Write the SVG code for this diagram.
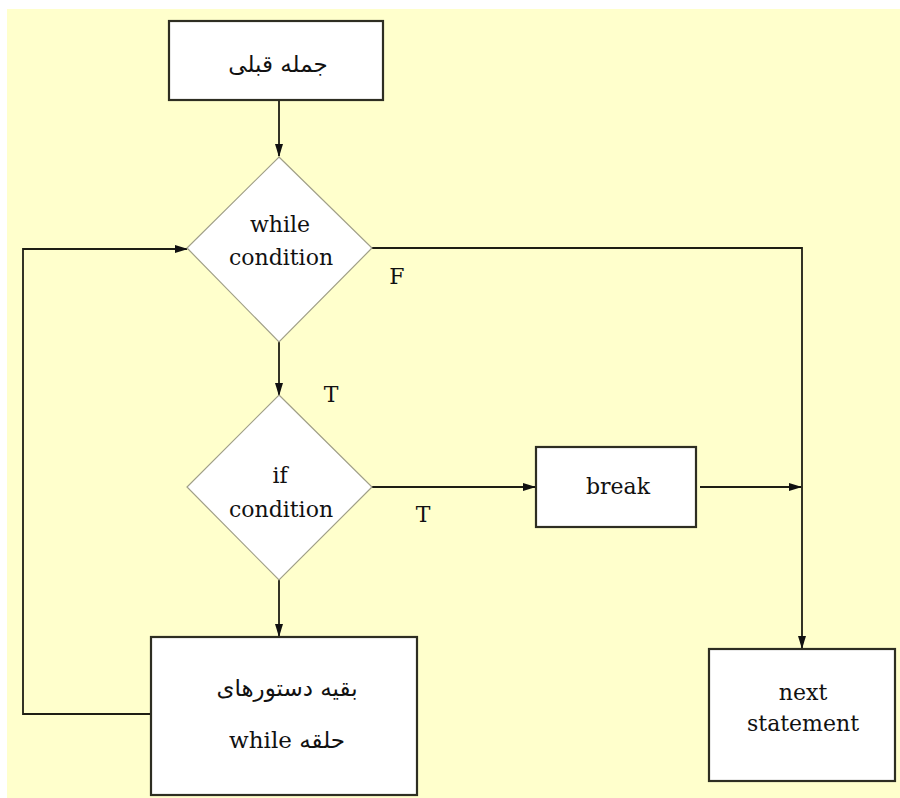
<svg xmlns="http://www.w3.org/2000/svg" width="900" height="798" viewBox="0 0 900 798">
  <style>
    .box { fill: #ffffff; stroke: #2e2e22; stroke-width: 2.2; }
    .dia { fill: #ffffff; stroke: #a09f88; stroke-width: 1.2; }
    .edge { fill: none; stroke: #1e1e14; stroke-width: 1.8; }
    .lat { font-family: "DejaVu Serif", "Liberation Serif", serif; font-size: 22px; fill: #111111; text-anchor: middle; }
    .fa { font-family: "DejaVu Sans", "Noto Sans", sans-serif; font-size: 23px; fill: #111111; text-anchor: middle; }
    .ser { font-family: "DejaVu Serif", "Liberation Serif", serif; }
  </style>
  <defs>
    <marker id="arrow" markerWidth="13" markerHeight="10" refX="12" refY="5" orient="auto" markerUnits="userSpaceOnUse">
      <path d="M0,1 L13,5 L0,9 Z" fill="#111111"/>
    </marker>
  </defs>

  <!-- page -->
  <rect x="0" y="0" width="900" height="798" fill="#ffffff"/>
  <rect x="7" y="9" width="893" height="789" fill="#ffffcc"/>

  <!-- connectors -->
  <g id="connectors">
    <line class="edge" x1="279" y1="100" x2="279" y2="156" marker-end="url(#arrow)"/>
    <line class="edge" x1="279" y1="342" x2="279" y2="395" marker-end="url(#arrow)"/>
    <line class="edge" x1="279" y1="580" x2="279" y2="636" marker-end="url(#arrow)"/>
    <polyline class="edge" points="151,714 23,714 23,249 187,249" marker-end="url(#arrow)"/>
    <polyline class="edge" points="372,248 802,248 802,648" marker-end="url(#arrow)"/>
    <line class="edge" x1="372" y1="487" x2="535" y2="487" marker-end="url(#arrow)"/>
    <line class="edge" x1="700" y1="487" x2="801" y2="487" marker-end="url(#arrow)"/>
    <text class="lat" x="397" y="284">F</text>
    <text class="lat" x="331" y="402">T</text>
    <text class="lat" x="423" y="522">T</text>
  </g>

  <g id="prev">
    <rect class="box" x="169" y="21" width="214" height="79"/>
    <text class="fa" x="278" y="72" direction="rtl">جمله قبلی</text>
  </g>

  <g id="while">
    <polygon class="dia" points="279,157 372,248 279,342 187,248"/>
    <text class="lat" x="280" y="232">while</text>
    <text class="lat" x="281" y="265">condition</text>
  </g>

  <g id="if">
    <polygon class="dia" points="279,395 372,487 279,580 187,487"/>
    <text class="lat" x="280" y="483">if</text>
    <text class="lat" x="281" y="517">condition</text>
  </g>

  <g id="break">
    <rect class="box" x="536" y="447" width="160" height="80"/>
    <text class="lat" x="618" y="494">break</text>
  </g>

  <g id="body">
    <rect class="box" x="151" y="637" width="266" height="158"/>
    <text class="fa" x="287" y="696" direction="rtl">بقیه دستورهای</text>
    <text class="fa" x="287" y="748" direction="rtl">حلقه <tspan class="ser">while</tspan></text>
  </g>

  <g id="next">
    <rect class="box" x="709" y="649" width="186" height="132"/>
    <text class="lat" x="803" y="700">next</text>
    <text class="lat" x="803" y="731">statement</text>
  </g>
</svg>
